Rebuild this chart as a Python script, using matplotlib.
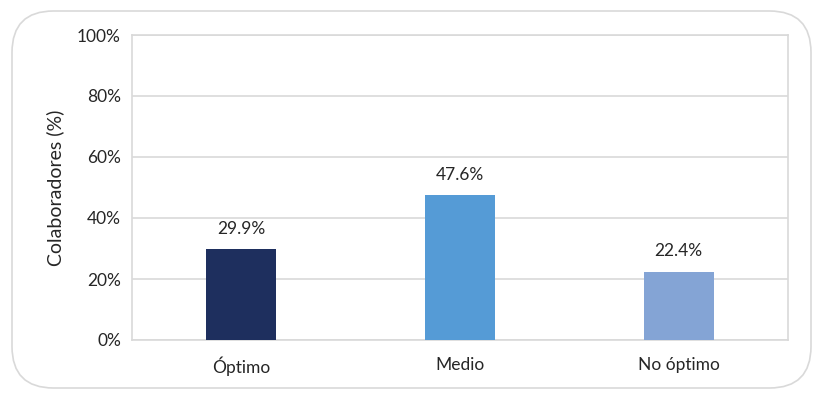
import matplotlib
matplotlib.use('Agg')
from matplotlib import pyplot as plt
from matplotlib.patches import FancyBboxPatch

categories = ['Óptimo', 'Medio', 'No óptimo']
values = [29.9, 47.6, 22.4]
colors = ['#1E2F5E', '#559BD6', '#84A4D5']
yticks = [0, 20, 40, 60, 80, 100]

plt.rcParams['font.family'] = ['Lato', 'DejaVu Sans']

fig = plt.figure(figsize=(8.31, 3.99), dpi=100)
# rounded outer frame, behind the axes
frame = FancyBboxPatch((12 / 831, 11 / 399), 799 / 831, 377 / 399,
                       boxstyle='round,pad=0,rounding_size=0.05',
                       transform=fig.transFigure, facecolor='white',
                       edgecolor='#D9D9D9', linewidth=1.2, mutation_aspect=831 / 399,
                       zorder=-1)
fig.patches.append(frame)

ax = fig.add_axes([132 / 831, 1 - 340 / 399, 656 / 831, 305 / 399])
ax.patch.set_alpha(0)
x = range(len(categories))
ax.bar(x, values, width=0.32, color=colors, zorder=3)
for i, v in zip(x, values):
    ax.text(i, v + 4, f'{v:.1f}%', ha='center', va='bottom', fontsize=12.5, color='#262626')

ax.set_xlim(-0.5, 2.5)
ax.set_ylim(0, 100)
ax.set_yticks(yticks)
ax.set_yticklabels([f'{t}%' for t in yticks], fontsize=12.5, color='#262626')
ax.set_xticks(list(x))
ax.set_xticklabels(categories, fontsize=12.5, color='#262626')
ax.tick_params(length=0, pad=8)
ax.tick_params(axis='x', pad=12)
ax.grid(axis='y', color='#D9D9D9', linewidth=1.2, zorder=0)
for s in ax.spines.values():
    s.set_color('#D9D9D9')
    s.set_linewidth(1.2)
ax.set_ylabel('Colaboradores (%)', fontsize=14, color='#262626', labelpad=9)

fig.savefig('out.png', dpi=100)
